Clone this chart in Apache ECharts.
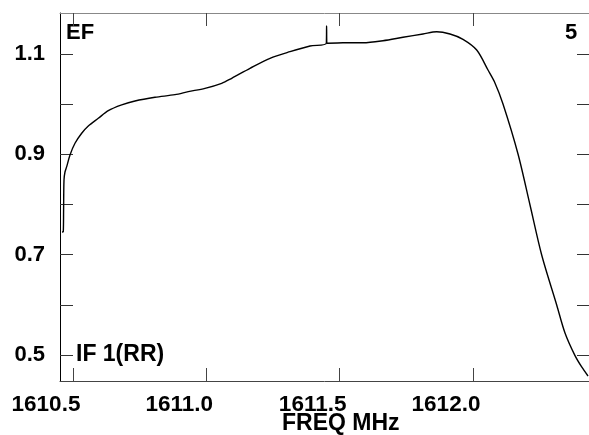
<!DOCTYPE html>
<html>
<head>
<meta charset="utf-8">
<script src="https://cdn.jsdelivr.net/npm/echarts@6/dist/echarts.min.js"></script>
<style>html,body{margin:0;padding:0;background:#fff}#c{width:589px;height:435px}</style>
</head>
<body>
<div id="c"></div>
<script>
// Frequency (MHz) and amplitude
var freq = [1610.4588, 1610.4636, 1610.4648, 1610.4663, 1610.4700, 1610.4764, 1610.4888, 1610.5075, 1610.5326,
  1610.5574, 1610.5949, 1610.6324, 1610.6826, 1610.7325, 1610.8075, 1610.8825, 1610.9324, 1610.9950,
  1611.0576, 1611.0951, 1611.1638, 1611.2388, 1611.3138, 1611.3888, 1611.4500, 1611.4510, 1611.4520,
  1611.5125, 1611.5875, 1611.6625, 1611.7375, 1611.8125, 1611.8639, 1611.9138, 1611.9625, 1612.0139,
  1612.0563, 1612.0800, 1612.1125, 1612.1688, 1612.2138, 1612.2576, 1612.3139, 1612.3450, 1612.3825,
  1612.4076, 1612.4313];
var amp = [0.7452, 0.7458, 0.789, 0.8489, 0.8648, 0.8754, 0.8987, 0.922, 0.942,
  0.9565, 0.9718, 0.987, 0.9984, 1.0063, 1.0137, 1.0189, 1.0249, 1.0316,
  1.0416, 1.0516, 1.0715, 1.0914, 1.1046, 1.1159, 1.1213, 1.1558, 1.1213,
  1.1225, 1.1225, 1.1265, 1.1333, 1.1399, 1.1444, 1.1399, 1.1293, 1.108,
  1.0681, 1.045, 1.0003, 0.9007, 0.799, 0.6994, 0.5998, 0.544, 0.4988,
  0.4762, 0.4582];
var xTicks = [1610.5, 1611.0, 1611.5, 1612.0];
var yTicks = [0.5, 0.6, 0.7, 0.8, 0.9, 1.0, 1.1];
var yLabels = [0.5, 0.7, 0.9, 1.1];
var titleLeft = 'EF', titleRight = '5', ifLabel = 'IF 1(RR)', xName = 'FREQ MHz';

var font = '"Liberation Sans", Arial, sans-serif';
var data = freq.map(function (f, i) { return [f, amp[i]]; });
var chart = echarts.init(document.getElementById('c'), null, {renderer: 'canvas'});
var xMin = 1610.4513, xMax = 1612.435, yMin = 0.4482, yMax = 1.1817;
chart.setOption({
  animation: false,
  grid: {left: 60, right: 0, top: 13, bottom: 54, containLabel: false},
  xAxis: [{
    type: 'value', min: xMin, max: xMax, position: 'bottom',
    axisLine: {show: true, onZero: false, lineStyle: {color: '#444', width: 1}},
    axisTick: {show: true, inside: true, length: 13, customValues: xTicks, lineStyle: {color: '#444'}},
    axisLabel: {show: true, customValues: xTicks, margin: 12, color: '#000', fontSize: 22.5, fontWeight: 'bold', fontFamily: font,
      padding: [0, 54, 0, 0],
      formatter: function (v) { return v.toFixed(1); }},
    splitLine: {show: false}
  }, {
    type: 'value', min: xMin, max: xMax, position: 'top',
    axisLine: {show: true, onZero: false, lineStyle: {color: '#888', width: 1}},
    axisTick: {show: true, inside: true, length: 13, customValues: xTicks, lineStyle: {color: '#444'}},
    axisLabel: {show: false},
    splitLine: {show: false}
  }],
  yAxis: [{
    type: 'value', min: yMin, max: yMax, position: 'left',
    axisLine: {show: true, onZero: false, lineStyle: {color: '#000', width: 1}},
    axisTick: {show: true, inside: true, length: 13, customValues: yTicks, lineStyle: {color: '#333'}},
    axisLabel: {show: true, customValues: yLabels, margin: 15, color: '#000', fontSize: 22, fontWeight: 'bold', fontFamily: font,
      formatter: function (v) { return v.toFixed(1); }},
    splitLine: {show: false}
  }, {
    type: 'value', min: yMin, max: yMax, position: 'right',
    axisLine: {show: false},
    axisTick: {show: true, inside: true, length: 12, customValues: yTicks, lineStyle: {color: '#333'}},
    axisLabel: {show: false},
    splitLine: {show: false}
  }],
  series: [{
    type: 'line', xAxisIndex: 0, yAxisIndex: 0, data: data, showSymbol: false, smooth: 0.3,
    lineStyle: {color: '#000', width: 1.4}
  }],
  graphic: [
    {type: 'text', left: 66, top: 22, style: {text: titleLeft, font: 'bold 22px ' + font, fill: '#000'}},
    {type: 'text', left: 565, top: 22, style: {text: titleRight, font: 'bold 22px ' + font, fill: '#000'}},
    {type: 'text', left: 76, top: 343, style: {text: ifLabel, font: 'bold 23px ' + font, fill: '#000'}},
    {type: 'text', left: 282, top: 412, style: {text: xName, font: 'bold 23px ' + font, fill: '#000'}}
  ]
});
</script>
</body>
</html>
